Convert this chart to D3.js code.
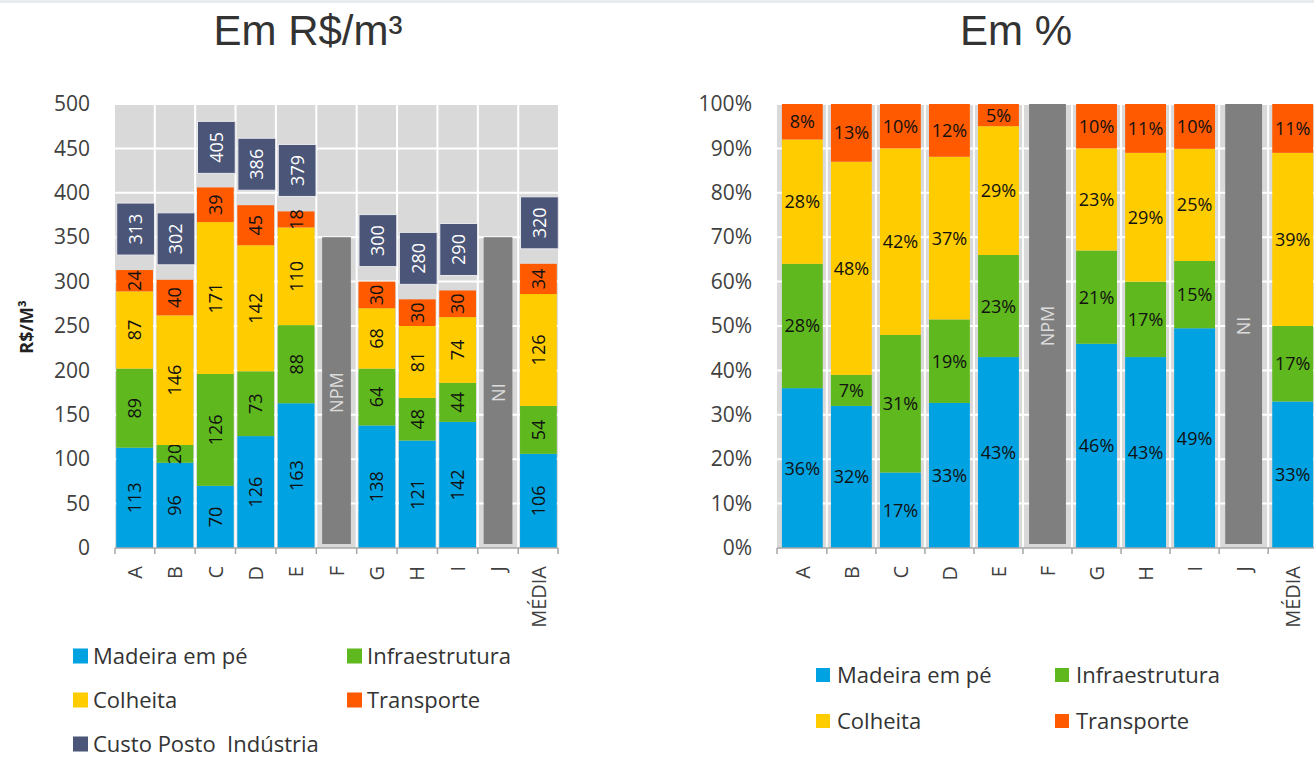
<!DOCTYPE html>
<html>
<head>
<meta charset="utf-8">
<script src="https://cdn.jsdelivr.net/npm/d3@7"></script>
<style>
body { margin: 0; background: #fff; }
svg { display: block; font-family: "Open Sans", sans-serif; }
</style>
</head>
<body>
<svg id="chart" width="1314" height="758"></svg>
<script>
// dados
var categories = ["A", "B", "C", "D", "E", "F", "G", "H", "I", "J", "MÉDIA"];
var madeira    = [113, 96, 70, 126, 163, null, 138, 121, 142, null, 106];
var infra      = [89, 20, 126, 73, 88, null, 64, 48, 44, null, 54];
var colheita   = [87, 146, 171, 142, 110, null, 68, 81, 74, null, 126];
var transporte = [24, 40, 39, 45, 18, null, 30, 30, 30, null, 34];
var custoPosto = [313, 302, 405, 386, 379, null, 300, 280, 290, null, 320];

var pctMadeira    = [36, 32, 17, 33, 43, null, 46, 43, 49, null, 33];
var pctInfra      = [28, 7, 31, 19, 23, null, 21, 17, 15, null, 17];
var pctColheita   = [28, 48, 42, 37, 29, null, 23, 29, 25, null, 39];
var pctTransporte = [8, 13, 10, 12, 5, null, 10, 11, 10, null, 11];

var notes = ["", "", "", "", "", "NPM", "", "", "", "NI", ""];
var noteHeightRs = 350;

var rsTicks = [0, 50, 100, 150, 200, 250, 300, 350, 400, 450, 500];
var pctTicks = [0, 10, 20, 30, 40, 50, 60, 70, 80, 90, 100];

var seriesNames = ["Madeira em pé", "Infraestrutura", "Colheita", "Transporte"];
var colors = ["#00a2e1", "#5fb81d", "#ffcc00", "#ff5a00"];
var custoName = "Custo Posto  Indústria";
var custoColor = "#4a5577";

var svg = d3.select("#chart");

// faixa clara no topo
svg.append("rect").attr("x", 0).attr("y", 0).attr("width", 1314).attr("height", 3).attr("fill", "#e8ecf0");

function rows(lists) {
    return categories.map(function (c, i) {
        var r = {cat: c, i: i};
        seriesNames.forEach(function (s, k) { r[s] = lists[k][i] || 0; });
        return r;
    });
}

function drawFrame(g, x, y, ticks, fmt, labelX) {
    var step = x.step();
    var gap = step * x.paddingInner();
    var r = x.range();

    g.append("rect")
        .attr("x", r[0]).attr("y", y(ticks[ticks.length - 1]))
        .attr("width", r[1] - r[0]).attr("height", y(ticks[0]) - y(ticks[ticks.length - 1]))
        .attr("fill", "#d9d9d9");

    g.selectAll(".hgrid")
        .data(ticks.slice(1))
        .enter().append("line")
        .attr("x1", r[0]).attr("x2", r[1])
        .attr("y1", function (d) { return y(d); }).attr("y2", function (d) { return y(d); })
        .attr("stroke", "#fff").attr("stroke-width", 2);

    g.selectAll(".vgrid")
        .data(categories.slice(1))
        .enter().append("line")
        .attr("x1", function (d) { return x(d) - gap / 2; })
        .attr("x2", function (d) { return x(d) - gap / 2; })
        .attr("y1", y(ticks[ticks.length - 1])).attr("y2", y(ticks[0]))
        .attr("stroke", "#fff").attr("stroke-width", 2);

    // eixo y
    var yAxis = d3.axisLeft(y).tickValues(ticks).tickSize(0).tickPadding(0).tickFormat(fmt);
    g.append("g")
        .attr("transform", "translate(" + labelX + ",0)")
        .call(yAxis)
        .call(function (a) { a.select(".domain").remove(); })
        .selectAll("text")
        .attr("font-family", "Open Sans, sans-serif")
        .attr("font-size", 21).attr("fill", "#404040");
}

function drawBottom(g, x, y0) {
    var step = x.step();
    var gap = step * x.paddingInner();
    var r = x.range();
    g.append("line").attr("x1", r[0]).attr("x2", r[1]).attr("y1", y0).attr("y2", y0)
        .attr("stroke", "#a6a6a6").attr("stroke-width", 1.5);
    var bounds = [r[0]].concat(categories.slice(1).map(function (d) { return x(d) - gap / 2; })).concat([r[1]]);
    g.selectAll(".xtick")
        .data(bounds)
        .enter().append("line")
        .attr("x1", function (d) { return d; }).attr("x2", function (d) { return d; })
        .attr("y1", y0).attr("y2", y0 + 6)
        .attr("stroke", "#a6a6a6").attr("stroke-width", 1.5);
    g.selectAll(".xlab")
        .data(categories)
        .enter().append("text")
        .attr("transform", function (d) {
            return "translate(" + (x(d) + x.bandwidth() / 2) + "," + (y0 + 18) + ") rotate(-90)";
        })
        .attr("text-anchor", "end")
        .attr("dy", "0.36em")
        .attr("font-size", 20).attr("fill", "#404040")
        .text(function (d) { return d; });
}

function drawLegend(g, items, x0, x1, yStart, rowGap, box, textX) {
    items.forEach(function (it, k) {
        var col = k % 2, row = Math.floor(k / 2);
        var lx = col === 0 ? x0 : x1;
        var ly = yStart + row * rowGap;
        g.append("rect").attr("x", lx).attr("y", ly - box / 2).attr("width", box).attr("height", box).attr("fill", it.color);
        g.append("text").attr("x", lx + textX).attr("y", ly).attr("dy", "0.35em")
            .style("white-space", "pre")
            .attr("font-size", 22).attr("fill", "#333").text(it.name);
    });
}

// ---------- painel esquerdo: R$/m3 ----------
var gL = svg.append("g");
var xL = d3.scaleBand().domain(categories).range([115, 558]).paddingInner(0.09).paddingOuter(0.03);
var yL = d3.scaleLinear().domain([0, 500]).range([548, 104]);

drawFrame(gL, xL, yL, rsTicks, function (d) { return d; }, 90);

var stackL = d3.stack().keys(seriesNames)(rows([madeira, infra, colheita, transporte]));

stackL.forEach(function (layer, k) {
    var seg = gL.selectAll(".segL" + k)
        .data(layer.filter(function (d) { return madeira[d.data.i] !== null; }))
        .enter();
    seg.append("rect")
        .attr("x", function (d) { return xL(d.data.cat); })
        .attr("y", function (d) { return yL(d[1]); })
        .attr("width", xL.bandwidth())
        .attr("height", function (d) { return yL(d[0]) - yL(d[1]); })
        .attr("fill", colors[k]);
    seg.append("text")
        .attr("transform", function (d) {
            return "translate(" + (xL(d.data.cat) + xL.bandwidth() / 2) + "," + yL((d[0] + d[1]) / 2) + ") rotate(-90)";
        })
        .attr("text-anchor", "middle").attr("dy", "0.36em")
        .attr("font-size", 18).attr("fill", "#111")
        .text(function (d) { return d[1] - d[0]; });
});

// caixas do custo posto indústria
var custoIdx = categories.map(function (c, i) { return i; }).filter(function (i) { return custoPosto[i] !== null; });
var boxGap = 15, boxH = 52;
gL.selectAll(".custo")
    .data(custoIdx)
    .enter().append("rect")
    .attr("x", function (i) { return xL(categories[i]) + 0.5; })
    .attr("y", function (i) { return yL(custoPosto[i]) - boxGap - boxH; })
    .attr("width", xL.bandwidth() + 1)
    .attr("height", boxH)
    .attr("fill", custoColor)
    .attr("stroke", "#e8e8ee").attr("stroke-width", 1);
gL.selectAll(".custoLab")
    .data(custoIdx)
    .enter().append("text")
    .attr("transform", function (i) {
        return "translate(" + (xL(categories[i]) + xL.bandwidth() / 2 + 1) + "," + (yL(custoPosto[i]) - boxGap - boxH / 2) + ") rotate(-90)";
    })
    .attr("text-anchor", "middle").attr("dy", "0.36em")
    .attr("font-size", 18).attr("fill", "#fff")
    .text(function (i) { return custoPosto[i]; });

// barras sem dados (NPM / NI)
var noteIdx = categories.map(function (c, i) { return i; }).filter(function (i) { return notes[i] !== ""; });
gL.selectAll(".noteL")
    .data(noteIdx)
    .enter().append("rect")
    .attr("x", function (i) { return xL(categories[i]) + 4; })
    .attr("y", yL(noteHeightRs))
    .attr("width", xL.bandwidth() - 8)
    .attr("height", yL(0) - yL(noteHeightRs) - 4)
    .attr("fill", "#7f7f7f");
gL.selectAll(".noteLabL")
    .data(noteIdx)
    .enter().append("text")
    .attr("transform", function (i) {
        return "translate(" + (xL(categories[i]) + xL.bandwidth() / 2) + "," + yL(noteHeightRs / 2) + ") rotate(-90)";
    })
    .attr("text-anchor", "middle").attr("dy", "0.36em")
    .attr("font-size", 18).attr("fill", "#dcdcdc")
    .text(function (i) { return notes[i]; });

drawBottom(gL, xL, 548);

gL.append("text")
    .attr("transform", "translate(27,327) rotate(-90)")
    .attr("text-anchor", "middle").attr("dy", "0.36em")
    .attr("font-size", 18).attr("font-weight", "bold").attr("fill", "#222")
    .text("R$/M³");

gL.append("text")
    .attr("x", 308).attr("y", 45)
    .attr("text-anchor", "middle")
    .attr("font-family", "Liberation Sans, Arial, sans-serif")
    .attr("font-size", 42).attr("fill", "#333")
    .text("Em R$/m³");

drawLegend(gL,
    seriesNames.map(function (s, k) { return {name: s, color: colors[k]}; }).concat([{name: custoName, color: custoColor}]),
    73, 347, 656, 44, 15, 20);

// ---------- painel direito: % ----------
var gR = svg.append("g");
var xR = d3.scaleBand().domain(categories).range([777, 1318]).paddingInner(0.167).paddingOuter(0.1);
var yRpct = d3.scaleLinear().domain([0, 100]).range([548, 104]);
var yR = d3.scaleLinear().domain([0, 1]).range([548, 104]);

drawFrame(gR, xR, yRpct, pctTicks, function (d) { return d + "%"; }, 752);

var stackR = d3.stack().keys(seriesNames).offset(d3.stackOffsetExpand)(rows([pctMadeira, pctInfra, pctColheita, pctTransporte]));

stackR.forEach(function (layer, k) {
    var seg = gR.selectAll(".segR" + k)
        .data(layer.filter(function (d) { return pctMadeira[d.data.i] !== null; }))
        .enter();
    seg.append("rect")
        .attr("x", function (d) { return xR(d.data.cat); })
        .attr("y", function (d) { return yR(d[1]); })
        .attr("width", xR.bandwidth())
        .attr("height", function (d) { return yR(d[0]) - yR(d[1]); })
        .attr("fill", colors[k]);
    seg.append("text")
        .attr("x", function (d) { return xR(d.data.cat) + xR.bandwidth() / 2; })
        .attr("y", function (d) { return yR((d[0] + d[1]) / 2); })
        .attr("text-anchor", "middle").attr("dy", "0.36em")
        .attr("font-size", 18).attr("fill", "#111")
        .text(function (d) { return d.data[seriesNames[k]] + "%"; });
});

gR.selectAll(".noteR")
    .data(noteIdx)
    .enter().append("rect")
    .attr("x", function (i) { return xR(categories[i]) + 2; })
    .attr("y", yR(1))
    .attr("width", xR.bandwidth() - 4)
    .attr("height", yR(0) - yR(1) - 4)
    .attr("fill", "#7f7f7f");
gR.selectAll(".noteLabR")
    .data(noteIdx)
    .enter().append("text")
    .attr("transform", function (i) {
        return "translate(" + (xR(categories[i]) + xR.bandwidth() / 2) + "," + yR(0.5) + ") rotate(-90)";
    })
    .attr("text-anchor", "middle").attr("dy", "0.36em")
    .attr("font-size", 18).attr("fill", "#dcdcdc")
    .text(function (i) { return notes[i]; });

drawBottom(gR, xR, 548);

gR.append("text")
    .attr("x", 1016).attr("y", 45)
    .attr("text-anchor", "middle")
    .attr("font-family", "Liberation Sans, Arial, sans-serif")
    .attr("font-size", 42).attr("fill", "#333")
    .text("Em %");

drawLegend(gR,
    seriesNames.map(function (s, k) { return {name: s, color: colors[k]}; }),
    816, 1055, 675, 46, 14, 21);
</script>
</body>
</html>
